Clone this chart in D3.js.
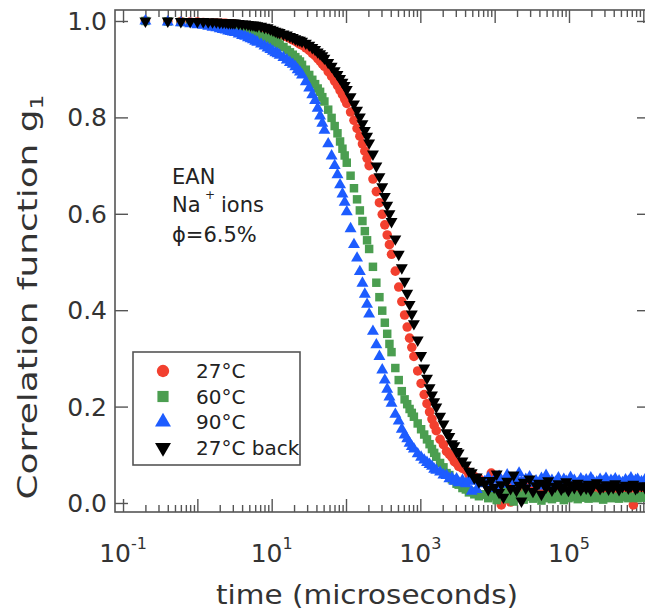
<!DOCTYPE html>
<html><head><meta charset="utf-8">
<script src="https://cdn.jsdelivr.net/npm/d3@7"></script>
<style>body{margin:0;background:#fff} svg{display:block;font-family:"DejaVu Sans",sans-serif}</style>
</head><body><svg id="c" width="645" height="613"></svg>
<script>
// lag times (microseconds)
const times = [0.2,0.4,0.6,0.8,1,1.2,1.4,1.6,1.8,2,2.2,2.4,2.6,2.8,3,3.2,
3.6,4,4.4,4.8,5.2,5.6,6,6.4,
7.2,8,8.8,9.6,10.4,11.2,12,12.8,
14.4,16,17.6,19.2,20.8,22.4,24,25.6,
28.8,32,35.2,38.4,41.6,44.8,48,51.2,
57.6,64,70.4,76.8,83.2,89.6,96,102.4,
115.2,128,140.8,153.6,166.4,179.2,192,204.8,
230.4,256,281.6,307.2,332.8,358.4,384,409.6,
460.8,512,563.2,614.4,665.6,716.8,768,819.2,
921.6,1024,1126.4,1228.8,1331.2,1433.6,1536,1638.4,
1843.2,2048,2252.8,2457.6,2662.4,2867.2,3072,3276.8,
3686.4,4096,4505.6,4915.2,5324.8,5734.4,6144,6553.6,
7373,8192,9011,9830,10650,11469,12288,13107,
14746,16384,18022,19661,21299,22938,24576,26214,
29491,32768,36045,39322,42598,45875,49152,52429,
58982,65536,72090,78643,85197,91750,98304,104858,
117965,131072,144179,157286,170394,183501,196608,209715,
235930,262144,288358,314573,340787,367002,393216,419430,
471859,524288,576717,629146,681574,734003,786432,838861,
943718,1048576,1153434];

// 27°C (red circles)
const g27 = [1.0,0.999,0.999,0.998,0.998,0.997,0.996,0.996,0.996,0.995,0.995,0.995,0.994,0.994,0.994,0.993,
0.992,0.991,0.990,0.989,0.988,0.987,0.987,0.986,
0.984,0.983,0.981,0.980,0.978,0.977,0.975,0.974,
0.970,0.967,0.964,0.961,0.958,0.955,0.952,0.950,
0.944,0.939,0.933,0.928,0.922,0.917,0.911,0.906,
0.895,0.885,0.875,0.866,0.856,0.847,0.838,0.829,
0.811,0.794,0.777,0.761,0.745,0.730,0.715,0.700,
0.672,0.646,0.623,0.599,0.577,0.556,0.536,0.516,
0.481,0.448,0.418,0.390,0.365,0.342,0.323,0.304,
0.274,0.248,0.225,0.206,0.189,0.174,0.161,0.150,
0.132,0.121,0.107,0.101,0.095,0.086,0.083,0.076,
0.072,0.068,0.059,0.057,0.055,0.050,0.051,0.046,
0.045,0.038,0.062,0.030,0.020,0.050,-0.004,0.035,
0.028,0.002,0.041,0.033,0.025,0.044,0.031,0.022,
0.036,0.029,0.040,0.027,0.033,0.024,0.038,0.030,
0.026,0.035,0.031,0.028,0.034,0.025,0.032,0.029,
0.036,0.027,0.031,0.033,0.028,0.030,0.034,0.026,
0.032,0.029,0.031,0.027,0.033,0.030,0.028,0.032,
0.026,0.030,0.034,0.029,0.031,-0.004,0.030,0.028,
0.032,0.030,0.029];

// 60°C (green squares)
const g60 = [1.0,0.999,0.998,0.997,0.996,0.995,0.994,0.993,0.992,0.991,0.990,0.989,0.988,0.987,0.986,0.985,
0.981,0.980,0.978,0.977,0.976,0.974,0.973,0.971,
0.969,0.967,0.965,0.962,0.959,0.956,0.955,0.951,
0.946,0.940,0.935,0.930,0.925,0.920,0.916,0.909,
0.899,0.888,0.878,0.869,0.860,0.853,0.842,0.833,
0.816,0.799,0.782,0.767,0.750,0.735,0.721,0.706,
0.679,0.653,0.630,0.607,0.585,0.564,0.545,0.527,
0.490,0.457,0.427,0.399,0.374,0.351,0.330,0.313,
0.280,0.255,0.232,0.215,0.205,0.195,0.187,0.179,
0.165,0.153,0.142,0.132,0.122,0.112,0.104,0.096,
0.083,0.074,0.062,0.058,0.049,0.047,0.040,0.038,
0.031,0.028,0.022,0.024,0.018,0.020,0.014,0.017,
0.018,0.010,0.022,0.014,0.006,0.020,0.012,0.025,
0.008,0.016,0.003,0.019,0.011,0.015,0.007,0.021,
0.013,0.009,0.017,0.012,0.005,0.016,0.010,0.014,
0.008,0.018,0.011,0.013,0.006,0.015,0.010,0.012,
0.016,0.008,0.013,0.011,0.014,0.009,0.012,0.015,
0.010,0.013,0.007,0.012,0.014,0.010,0.013,0.011,
0.009,0.014,0.012,0.010,0.013,0.011,0.012,0.010,
0.014,0.011,0.012];

// 90°C (blue up-triangles)
const g90 = [1.0,0.998,0.996,0.994,0.992,0.991,0.989,0.987,0.986,0.984,0.982,0.981,0.979,0.978,0.977,0.976,
0.973,0.970,0.968,0.965,0.963,0.961,0.958,0.956,
0.952,0.948,0.944,0.941,0.937,0.934,0.932,0.929,
0.924,0.919,0.914,0.910,0.905,0.899,0.894,0.888,
0.874,0.861,0.847,0.835,0.819,0.803,0.788,0.773,
0.745,0.720,0.700,0.681,0.660,0.641,0.624,0.604,
0.569,0.536,0.508,0.480,0.456,0.433,0.412,0.392,
0.356,0.328,0.304,0.276,0.255,0.236,0.220,0.207,
0.184,0.170,0.153,0.141,0.133,0.124,0.117,0.112,
0.102,0.095,0.089,0.084,0.080,0.076,0.070,0.068,
0.064,0.058,0.057,0.050,0.052,0.045,0.050,0.042,
0.047,0.040,0.046,0.024,0.045,0.028,0.048,0.040,
0.044,0.052,0.036,0.048,0.030,0.055,0.044,0.039,
0.058,0.047,0.033,0.050,0.062,0.043,0.038,0.049,
0.054,0.041,0.046,0.035,0.051,0.044,0.057,0.040,
0.047,0.043,0.052,0.038,0.049,0.045,0.042,0.053,
0.047,0.040,0.050,0.044,0.048,0.041,0.052,0.046,
0.043,0.049,0.045,0.051,0.040,0.047,0.044,0.050,
0.046,0.042,0.048,0.045,0.052,0.043,0.047,0.049,
0.044,0.048,0.046];

// 27°C back (black down-triangles)
const g27back = [1.0,1.0,0.999,0.999,0.999,0.999,0.998,0.998,0.998,0.997,0.997,0.997,0.996,0.996,0.996,0.996,
0.995,0.994,0.994,0.993,0.992,0.992,0.991,0.990,
0.989,0.987,0.986,0.983,0.981,0.979,0.977,0.976,
0.973,0.971,0.968,0.966,0.963,0.961,0.960,0.958,
0.954,0.950,0.945,0.941,0.936,0.932,0.928,0.923,
0.914,0.906,0.897,0.889,0.881,0.873,0.866,0.858,
0.843,0.828,0.815,0.801,0.787,0.773,0.761,0.747,
0.724,0.699,0.677,0.656,0.636,0.618,0.600,0.584,
0.548,0.516,0.488,0.460,0.435,0.412,0.392,0.372,
0.338,0.306,0.280,0.259,0.239,0.224,0.210,0.199,
0.180,0.164,0.146,0.138,0.123,0.119,0.107,0.104,
0.087,0.079,0.066,0.063,0.052,0.054,0.044,0.047,
0.040,0.028,0.047,0.033,0.060,0.022,0.038,0.012,
0.045,0.030,0.058,0.026,0.037,0.004,0.043,0.031,
0.050,0.024,0.036,0.041,0.018,0.039,0.033,0.046,
0.027,0.035,0.040,0.029,0.034,0.044,0.026,0.038,
0.032,0.041,0.028,0.036,0.031,0.039,0.027,0.035,
0.042,0.030,0.034,0.038,0.029,0.036,0.032,0.040,
0.028,0.034,0.037,0.031,0.035,0.039,0.030,0.033,
0.036,0.032,0.035];

const seriesNames = ["27°C","60°C","90°C","27°C back"];
const seriesColors = ["#f2402f","#4b9e50","#1d5cff","#000000"];
const yTickValues = [0,0.2,0.4,0.6,0.8,1.0];
const xLabelExponents = [-1,1,3,5];
const xMajorExponents = [-1,0,1,2,3,4,5,6];
const annotation = ["EAN","Na","+","ions","ϕ=6.5%"];

const svg = d3.select("#c");
const L = 115, R = 650, T = 10, B = 512;
const x = d3.scaleLog().domain([Math.pow(10,-1.108), Math.pow(10,6.09)]).range([L,R]);
const y = d3.scaleLinear().domain([-0.0187,1.0228]).range([B,T]);
const axisCol = "#555";

const majors = xMajorExponents.map(e => Math.pow(10,e));
const minors = [];
xMajorExponents.slice(0,-1).forEach(e => { for (let k=2;k<=9;k++) minors.push(k*Math.pow(10,e)); });
const minorsIn = minors.filter(v => x(v) >= L && x(v) <= R);

function styleAxis(g){ g.select(".domain").remove(); g.selectAll(".tick line").attr("stroke",axisCol).attr("stroke-width",1.4); g.selectAll("text").remove(); }

svg.append("g").attr("transform",`translate(0,${B})`).call(d3.axisBottom(x).tickValues(majors).tickSize(-13)).call(styleAxis);
svg.append("g").attr("transform",`translate(0,${B})`).call(d3.axisBottom(x).tickValues(minorsIn).tickSize(-7)).call(styleAxis);
svg.append("g").attr("transform",`translate(0,${T})`).call(d3.axisTop(x).tickValues(majors).tickSize(-13)).call(styleAxis);
svg.append("g").attr("transform",`translate(0,${T})`).call(d3.axisTop(x).tickValues(minorsIn).tickSize(-7)).call(styleAxis);
svg.append("g").attr("transform",`translate(${L},0)`).call(d3.axisLeft(y).tickValues(yTickValues).tickSize(-13)).call(styleAxis);
svg.append("g").attr("transform",`translate(${R},0)`).call(d3.axisRight(y).tickValues(yTickValues).tickSize(-13)).call(styleAxis);

svg.append("rect").attr("x",L).attr("y",T).attr("width",R-L).attr("height",B-T)
  .attr("fill","none").attr("stroke",axisCol).attr("stroke-width",1.6);

// y tick labels
svg.append("g").selectAll("text").data(yTickValues).join("text")
  .attr("x",L-8).attr("y",d=>y(d)).attr("dy","0.36em").attr("text-anchor","end")
  .attr("font-size",25).attr("fill","#333").text(d=>d3.format(".1f")(d));

// x tick labels with superscripts
const xl = svg.append("g").selectAll("text").data(xLabelExponents).join("text")
  .attr("x",d=>x(Math.pow(10,d))).attr("y",562).attr("text-anchor","middle")
  .attr("font-size",25).attr("fill","#333");
xl.append("tspan").text("10");
xl.append("tspan").attr("dy",-13).attr("font-size",16).text(d=>String(d));

// axis titles
svg.append("text").attr("x",367).attr("y",604).attr("text-anchor","middle")
  .attr("font-size",27).attr("fill","#333")
  .attr("textLength",302).attr("lengthAdjust","spacingAndGlyphs").text("time (microseconds)");
const yt = svg.append("text").attr("transform","translate(37,297) rotate(-90) scale(1.38,1)").attr("text-anchor","middle")
  .attr("font-size",26).attr("fill","#333");
yt.append("tspan").text("Correlation function g");
yt.append("tspan").attr("dy",6).attr("font-size",17).text("1");

// data
const seriesData = [g27,g60,g90,g27back];
const symTypes = [d3.symbolCircle,d3.symbolSquare,d3.symbolTriangle,d3.symbolTriangle];
const symSizes = [72,72,62,62];
const rot = [0,0,0,180];
seriesData.forEach((vals,i)=>{
  const pts = times.map((t,j)=>({t, g: vals[j]})).filter(d=>d.g!==undefined);
  svg.append("g").selectAll("path").data(pts).join("path")
    .attr("d", d3.symbol().type(symTypes[i]).size(symSizes[i]))
    .attr("transform", d=>`translate(${x(d.t)},${y(d.g)}) rotate(${rot[i]})`)
    .attr("fill", seriesColors[i]);
});

// annotation
const an = svg.append("g").attr("font-size",21).attr("fill","#222");
an.append("text").attr("x",172).attr("y",184).text(annotation[0]);
an.append("text").attr("x",172).attr("y",212).text(annotation[1]);
an.append("text").attr("x",205).attr("y",199).attr("font-size",12).text(annotation[2]);
an.append("text").attr("x",221).attr("y",212).text(annotation[3]);
an.append("text").attr("x",172).attr("y",242).text(annotation[4]);

// legend
const lg = svg.append("g");
lg.append("rect").attr("x",133).attr("y",352).attr("width",167).attr("height",113)
  .attr("fill","#fff").attr("stroke",axisCol).attr("stroke-width",1.6);
const legSizes = [120,125,110,110];
seriesNames.forEach((n,i)=>{
  const cy = 371 + i*25.5;
  lg.append("path").attr("d", d3.symbol().type(symTypes[i]).size(legSizes[i]))
    .attr("transform",`translate(163,${cy}) rotate(${rot[i]})`).attr("fill",seriesColors[i]);
  lg.append("text").attr("x",196).attr("y",cy).attr("dy","0.36em").attr("font-size",20).attr("fill","#222").text(n);
});
</script>
</body></html>
